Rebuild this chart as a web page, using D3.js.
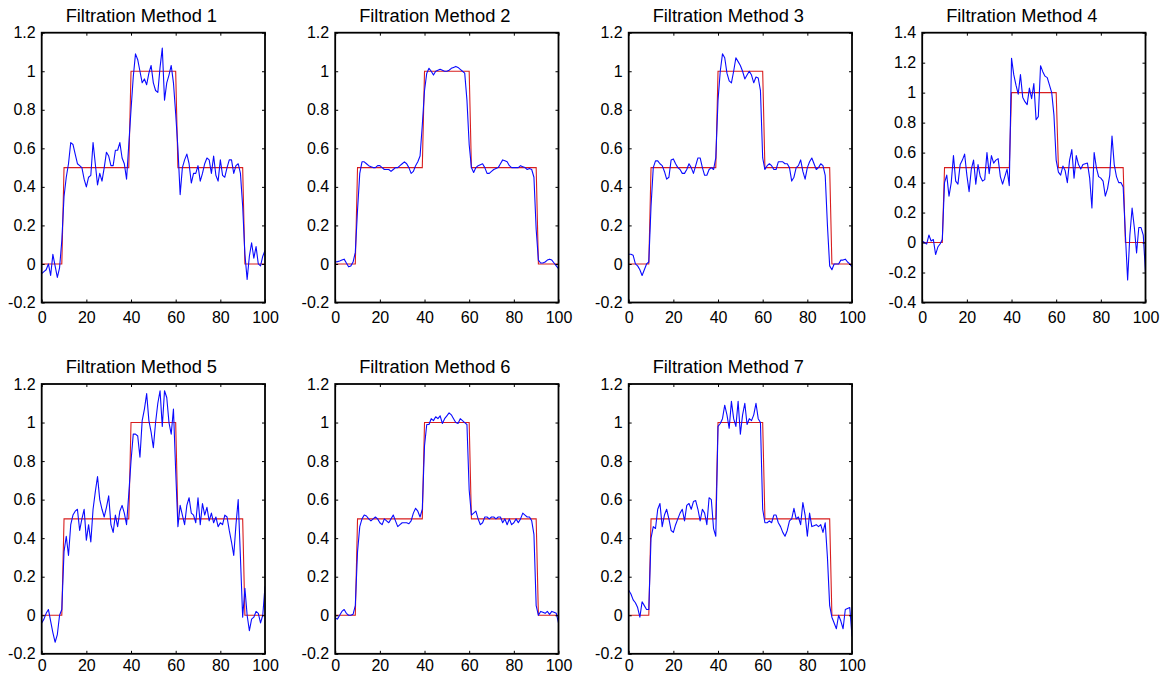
<!DOCTYPE html>
<html>
<head>
<meta charset="utf-8">
<script src="https://cdn.jsdelivr.net/npm/d3@7/dist/d3.min.js"></script>
<style>
  html, body { margin: 0; padding: 0; background: #ffffff; }
  svg { display: block; }
  text { font-family: "Liberation Sans", Arial, Helvetica, sans-serif; fill: #000; }
</style>
</head>
<body>
<svg id="chart" width="1166" height="675"></svg>
<script>
// ---------------- DATA ----------------
const titles = ["Filtration Method 1", "Filtration Method 2", "Filtration Method 3", "Filtration Method 4",
                "Filtration Method 5", "Filtration Method 6", "Filtration Method 7"];

const sampleX = [0,1,2,3,4,5,6,7,8,9,10,11,12,13,14,15,16,17,18,19,20,21,22,23,24,25,26,27,28,29,30,
  31,32,33,34,35,36,37,38,39,40,41,42,43,44,45,46,47,48,49,50,51,52,53,54,55,56,57,58,59,60,
  61,62,63,64,65,66,67,68,69,70,71,72,73,74,75,76,77,78,79,80,81,82,83,84,85,86,87,88,89,90,
  91,92,93,94,95,96,97,98,99,100];

// reference (ideal) signal, as break points
const refX = [0, 9, 10, 39, 40, 60, 61, 90, 91, 100];
const refY = [0, 0, 0.5, 0.5, 1, 1, 0.5, 0.5, 0, 0];

const xTicks = [0, 20, 40, 60, 80, 100];
const yTicksStd = [-0.2, 0, 0.2, 0.4, 0.6, 0.8, 1, 1.2];
const yTicksWide = [-0.4, -0.2, 0, 0.2, 0.4, 0.6, 0.8, 1, 1.2, 1.4];
const yDomainStd = [-0.2, 1.2];
const yDomainWide = [-0.4, 1.4];

const method1 = [-0.05,-0.04,-0.03,0.0,-0.06,0.05,-0.01,-0.07,-0.02,0.12,0.35,0.45,0.52,0.63,0.62,0.57,0.52,0.51,0.50,0.44,
  0.40,0.45,0.46,0.63,0.52,0.41,0.47,0.43,0.50,0.58,0.56,0.51,0.51,0.59,0.59,0.63,0.55,0.52,0.44,0.62,
  0.80,0.97,1.09,1.06,1.0,0.94,0.96,0.93,0.99,1.03,0.94,0.90,0.89,1.02,1.12,0.85,0.94,0.98,1.03,0.94,
  0.78,0.60,0.36,0.50,0.54,0.57,0.52,0.42,0.47,0.47,0.51,0.43,0.47,0.52,0.55,0.54,0.47,0.56,0.46,0.43,
  0.54,0.46,0.45,0.50,0.54,0.54,0.47,0.51,0.52,0.47,0.30,0.05,-0.08,0.04,0.11,0.03,0.09,0.0,-0.01,0.04,0.07];

const method2 = [0.01,0.012,0.015,0.02,0.025,0.005,-0.015,-0.01,0.01,0.06,0.28,0.47,0.53,0.53,0.52,0.51,0.505,0.50,0.50,0.51,
  0.51,0.50,0.49,0.49,0.49,0.48,0.49,0.50,0.50,0.51,0.52,0.53,0.52,0.50,0.47,0.48,0.51,0.53,0.56,0.72,
  0.90,0.99,1.015,1.0,0.98,1.0,1.005,1.01,1.005,1.0,1.0,1.005,1.015,1.02,1.025,1.02,1.01,1.0,0.99,0.85,
  0.62,0.50,0.475,0.50,0.51,0.515,0.52,0.50,0.47,0.47,0.48,0.49,0.495,0.50,0.52,0.54,0.535,0.53,0.51,0.50,
  0.50,0.50,0.50,0.51,0.505,0.50,0.49,0.495,0.49,0.45,0.18,0.02,0.005,0.005,0.01,0.02,0.025,0.02,0.005,-0.01,-0.025];

const method3 = [0.05,0.05,0.045,0.0,-0.01,-0.03,-0.06,-0.03,0.0,0.01,0.30,0.50,0.535,0.535,0.52,0.51,0.48,0.44,0.45,0.54,
  0.545,0.52,0.50,0.49,0.47,0.47,0.49,0.52,0.50,0.47,0.51,0.55,0.55,0.50,0.46,0.46,0.49,0.50,0.49,0.55,
  0.85,1.0,1.09,1.07,0.99,0.95,0.94,1.0,1.07,1.05,1.03,1.0,0.96,0.98,1.0,0.98,0.94,0.97,0.965,0.90,
  0.55,0.49,0.51,0.52,0.51,0.49,0.49,0.53,0.53,0.53,0.52,0.52,0.50,0.43,0.45,0.50,0.51,0.54,0.48,0.44,
  0.50,0.53,0.55,0.52,0.49,0.50,0.52,0.51,0.46,0.20,-0.01,-0.03,0.0,0.0,0.0,0.02,0.02,0.025,0.01,0.0,-0.015];

const method4 = [0.01,0.0,-0.01,0.05,0.01,0.02,-0.08,-0.03,-0.01,0.02,0.40,0.45,0.31,0.40,0.58,0.41,0.39,0.52,0.55,0.59,
  0.45,0.34,0.49,0.55,0.39,0.52,0.44,0.41,0.42,0.60,0.46,0.58,0.53,0.55,0.56,0.44,0.39,0.44,0.49,0.38,
  1.23,1.12,1.05,0.99,1.12,0.97,0.94,0.92,1.03,0.96,1.06,0.82,0.84,1.18,1.14,1.11,1.10,1.05,1.0,0.85,
  0.55,0.47,0.45,0.51,0.48,0.40,0.55,0.62,0.43,0.58,0.52,0.49,0.52,0.525,0.53,0.43,0.23,0.60,0.50,0.44,
  0.43,0.41,0.31,0.36,0.45,0.71,0.52,0.44,0.40,0.40,0.37,0.05,-0.25,0.05,0.23,0.10,-0.07,0.10,0.10,0.05,-0.20];

const method5 = [-0.04,-0.02,0.01,0.03,-0.03,-0.09,-0.14,-0.10,0.0,0.03,0.33,0.41,0.31,0.47,0.52,0.54,0.55,0.44,0.50,0.55,
  0.39,0.47,0.38,0.55,0.64,0.72,0.60,0.55,0.51,0.56,0.62,0.47,0.43,0.52,0.46,0.54,0.57,0.53,0.47,0.63,
  0.80,0.94,0.94,0.93,0.82,1.01,1.07,1.15,1.01,0.95,0.87,1.0,1.10,1.165,0.98,1.165,1.13,1.0,0.94,1.07,
  0.75,0.46,0.57,0.52,0.47,0.57,0.61,0.53,0.52,0.48,0.61,0.47,0.58,0.52,0.56,0.49,0.53,0.48,0.51,0.46,
  0.48,0.47,0.52,0.51,0.44,0.38,0.31,0.47,0.60,0.30,-0.01,0.14,0.0,-0.08,-0.02,-0.01,0.02,0.01,-0.04,0.0,0.15];

const method6 = [-0.015,-0.02,0.0,0.02,0.03,0.01,0.0,0.0,0.005,0.05,0.33,0.46,0.50,0.52,0.515,0.50,0.49,0.50,0.51,0.50,
  0.48,0.47,0.50,0.49,0.48,0.50,0.52,0.49,0.46,0.47,0.48,0.48,0.48,0.475,0.49,0.53,0.555,0.54,0.51,0.55,
  0.88,0.99,0.99,1.02,1.01,1.03,1.02,1.035,0.995,1.02,1.035,1.05,1.04,1.02,1.0,0.995,1.02,1.01,1.0,0.99,
  0.65,0.52,0.53,0.54,0.50,0.47,0.48,0.51,0.51,0.50,0.51,0.51,0.50,0.51,0.51,0.48,0.50,0.47,0.50,0.47,
  0.48,0.50,0.48,0.50,0.53,0.52,0.51,0.51,0.49,0.42,0.05,0.0,0.02,0.015,0.01,0.02,0.005,0.02,0.015,0.01,-0.04];

const method7 = [0.13,0.11,0.08,0.065,0.04,-0.01,0.07,0.05,0.03,0.03,0.40,0.46,0.45,0.55,0.58,0.46,0.52,0.55,0.50,0.44,
  0.43,0.47,0.50,0.53,0.55,0.49,0.57,0.58,0.55,0.59,0.595,0.55,0.49,0.55,0.53,0.47,0.61,0.60,0.45,0.41,
  0.98,0.995,1.02,1.09,1.04,0.97,1.11,1.02,0.98,1.11,0.94,1.04,1.10,0.99,1.02,1.01,1.04,1.10,1.02,1.0,
  0.55,0.48,0.48,0.49,0.48,0.52,0.52,0.48,0.46,0.43,0.41,0.44,0.49,0.50,0.555,0.50,0.51,0.47,0.585,0.52,
  0.41,0.53,0.46,0.465,0.47,0.46,0.47,0.43,0.48,0.30,0.05,-0.01,-0.04,-0.07,0.0,-0.03,-0.07,0.03,0.035,0.04,-0.11];

const filtered = [method1, method2, method3, method4, method5, method6, method7];
const wideAxis = [false, false, false, true, false, false, false];

// ---------------- LAYOUT ----------------
const svg = d3.select("#chart");
svg.append("rect").attr("width", 1166).attr("height", 675).attr("fill", "#fff");

const panelW = 223.3, panelH = 269.8;
const lefts = [41.7, 335.2, 628.7, 922.2];
const tops = [32.7, 384.0];
const xLabelPad = [9, 6];
const tickLen = 3;
const fmt = d => String(Math.round(d * 10) / 10);

filtered.forEach((vals, i) => {
  const col = i % 4, row = Math.floor(i / 4);
  const L = lefts[col], T = tops[row];
  const yDom = wideAxis[i] ? yDomainWide : yDomainStd;
  const yT = wideAxis[i] ? yTicksWide : yTicksStd;

  const x = d3.scaleLinear().domain([0, 100]).range([L, L + panelW]);
  const y = d3.scaleLinear().domain(yDom).range([T + panelH, T]);

  const g = svg.append("g");

  const clipId = "clip" + i;
  g.append("clipPath").attr("id", clipId)
    .append("rect").attr("x", L).attr("y", T).attr("width", panelW).attr("height", panelH);

  // lines
  const line = d3.line().x(d => x(d[0])).y(d => y(d[1]));
  const refPts = refX.map((v, k) => [v, refY[k]]);
  const bluePts = sampleX.map((v, k) => [v, vals[k]]);

  const plotG = g.append("g").attr("clip-path", `url(#${clipId})`);
  plotG.append("path").datum(refPts).attr("d", line)
    .attr("fill", "none").attr("stroke", "#d81e1e").attr("stroke-width", 1.1);
  plotG.append("path").datum(bluePts).attr("d", line)
    .attr("fill", "none").attr("stroke", "#0a0aff").attr("stroke-width", 1.1)
    .attr("stroke-linejoin", "round");

  // axes (inward ticks on all four sides)
  const axL = g.append("g").attr("transform", `translate(${L},0)`)
    .call(d3.axisLeft(y).tickValues(yT).tickSize(-tickLen).tickPadding(6).tickFormat(fmt));
  const axR = g.append("g").attr("transform", `translate(${L + panelW},0)`)
    .call(d3.axisRight(y).tickValues(yT).tickSize(-tickLen).tickFormat(""));
  const axB = g.append("g").attr("transform", `translate(0,${T + panelH})`)
    .call(d3.axisBottom(x).tickValues(xTicks).tickSize(-tickLen).tickPadding(xLabelPad[row]).tickFormat(fmt));
  const axT = g.append("g").attr("transform", `translate(0,${T})`)
    .call(d3.axisTop(x).tickValues(xTicks).tickSize(-tickLen).tickFormat(""));

  [axL, axR, axB, axT].forEach(a => {
    a.select(".domain").remove();
    a.selectAll(".tick line").attr("stroke", "#000").attr("stroke-width", 1);
    a.selectAll("text").attr("font-size", 16)
      .attr("font-family", '"Liberation Sans", Arial, Helvetica, sans-serif').attr("fill", "#000");
  });

  // frame
  g.append("rect").attr("x", L).attr("y", T).attr("width", panelW).attr("height", panelH)
    .attr("fill", "none").attr("stroke", "#000").attr("stroke-width", 1.8);

  // title
  g.append("text").attr("x", L + panelW / 2 - 12).attr("y", T - 11)
    .attr("text-anchor", "middle").attr("font-size", 18.3)
    .text(titles[i]);
});
</script>
</body>
</html>
